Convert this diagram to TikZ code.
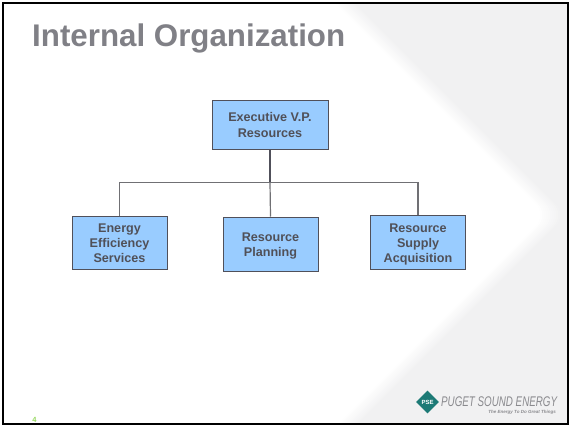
\documentclass[tikz,border=0pt]{standalone}
\usepackage{fontspec}
\setmainfont{Liberation Sans}
\usetikzlibrary{shapes.geometric}
\definecolor{bandgray}{HTML}{F1F1F2}
\definecolor{titlegray}{HTML}{808086}
\definecolor{boxblue}{HTML}{99CCFF}
\definecolor{boxtext}{HTML}{505058}
\definecolor{boxedge}{HTML}{50505A}
\definecolor{linkgray}{HTML}{707074}
\definecolor{pageno}{HTML}{98D860}
\definecolor{logoteal}{HTML}{1D7A76}
\definecolor{logotext}{HTML}{8A8A8E}
\tikzset{
  orgbox/.style={draw=boxedge,fill=boxblue,line width=1pt,inner sep=0pt,align=center,
    text=boxtext,font=\fontsize{12.6}{15}\selectfont\bfseries},
  linkline/.style={draw=linkgray,line width=1.2pt},
  trunkline/.style={draw=boxedge,line width=1.5pt}
}
\begin{document}
\begin{tikzpicture}[x=1pt,y=-1pt]
\useasboundingbox (0,0) rectangle (569,426);
\fill[white] (0,0) rectangle (569,426);
% background chevron
\begin{scope}
\clip (2,3) rectangle (568,424);
\fill[bandgray] (0,0) rectangle (569,426);
\foreach \d/\p in {20/9,18/18,16/27,14/36,12/45,10/54,8/63,6/72,4/81,2/90,0/100}{
  \fill[white!\p!bandgray,rounded corners=16pt]
    (-30,-20) -- ({312+\d},-20) -- ({547+\d},215) -- ({312+\d},450) -- (-30,450) -- cycle;
}
\end{scope}
\draw[black,line width=2pt] (2.5,3) rectangle (568,423.5);
% title and page number
\node[anchor=base west,inner sep=0pt,text=titlegray,font=\fontsize{31.3}{34}\selectfont\bfseries] (title) at (32,46.5) {Internal Organization};
\node[anchor=base,inner sep=0pt,text=pageno,font=\fontsize{7.5}{8}\selectfont\bfseries] (page) at (34.5,422) {4};
% org chart
\node[orgbox,minimum width=116pt,minimum height=49pt] (exec) at (270,124.5) {Executive V.P.\\[1pt]Resources};
\node[orgbox,minimum width=95pt,minimum height=53pt] (energy) at (119.5,242.5) {\rule{0pt}{11pt}Energy\\Efficiency\\Services};
\node[orgbox,minimum width=95pt,minimum height=54pt] (plan) at (270.5,244) {\rule{0pt}{12pt}Resource\\Planning};
\node[orgbox,minimum width=95pt,minimum height=54pt] (supply) at (418,242) {\rule{0pt}{13pt}Resource\\Supply\\Acquisition};
\coordinate (bus) at (270,182.5);
\draw[trunkline] (exec.south) -- (bus);
\draw[linkline] (bus) -- (plan.north);
\draw[linkline] (energy.north) |- (bus) -| (supply.north);
% logo
\node[diamond,fill=logoteal,inner sep=0pt,minimum width=23pt,minimum height=23pt,text=white,font=\fontsize{6}{7}\selectfont\bfseries] (logomark) at (427.5,402) {PSE};
\node[anchor=west,inner sep=0pt,text=logotext,font=\fontsize{14}{15}\selectfont\itshape,xscale=0.7] (logoname) at (441,402) {PUGET SOUND ENERGY};
\node[anchor=east,inner sep=0pt,text=logotext,font=\fontsize{4.5}{5}\selectfont\bfseries\itshape] (logotag) at (556,412) {The Energy To Do Great Things};
\end{tikzpicture}
\end{document}
